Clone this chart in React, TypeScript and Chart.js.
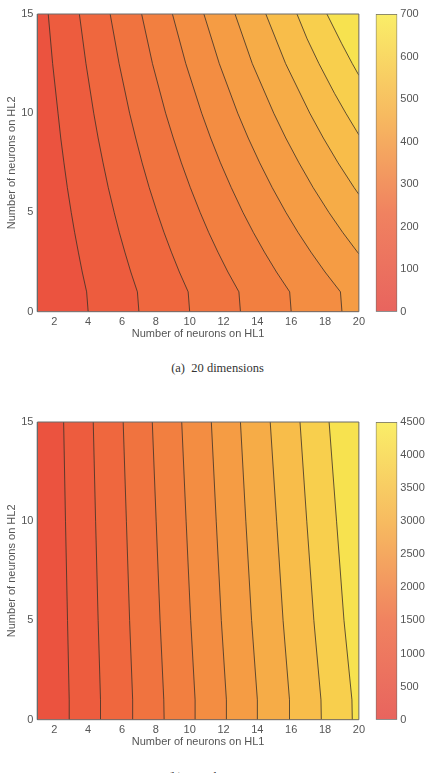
import React, { useEffect, useRef } from 'react';
import { Chart, registerables } from 'chart.js';

Chart.register(...registerables);

// ---------- data ----------
const X_MIN = 1;
const X_MAX = 20;
const Y_MIN = 0;
const Y_MAX = 15;
const X_TICKS = [2, 4, 6, 8, 10, 12, 14, 16, 18, 20];
const Y_TICKS = [0, 5, 10, 15];
const CBAR_A_MAX = 700;
const CBAR_A_TICKS = [0, 100, 200, 300, 400, 500, 600, 700];
const CBAR_B_MAX = 4500;
const CBAR_B_TICKS = [0, 500, 1000, 1500, 2000, 2500, 3000, 3500, 4000, 4500];

const X_TITLE = 'Number of neurons on HL1';
const Y_TITLE = 'Number of neurons on HL2';
const CAPTION_A = '(a)\u00a0\u00a020 dimensions';
const CAPTION_B = '(b)\u00a0\u00a0200 dimensions';

type P = { x: number; y: number };
const pts = (a: number[][]): P[] => a.map(([x, y]) => ({ x, y }));

// contour lines of plot (a), each from its lower/right end up to the top edge
const CONTOURS_A: P[][] = [
  pts([[4.0, 0], [3.91, 1], [3.65, 2], [3.42, 3], [3.2, 4], [3.0, 5], [2.77, 6.25], [2.57, 7.5], [2.38, 8.75], [2.22, 10], [1.9, 12.5], [1.64, 15]]),
  pts([[7.0, 0], [6.91, 1], [6.52, 2], [6.17, 3], [5.84, 4], [5.54, 5], [5.19, 6.25], [4.88, 7.5], [4.59, 8.75], [4.33, 10], [3.87, 12.5], [3.48, 15]]),
  pts([[10.0, 0], [9.91, 1], [9.39, 2], [8.92, 3], [8.48, 4], [8.08, 5], [7.61, 6.25], [7.19, 7.5], [6.81, 8.75], [6.45, 10], [5.83, 12.5], [5.3, 15]]),
  pts([[13.0, 0], [12.91, 1], [12.26, 2], [11.67, 3], [11.12, 4], [10.62, 5], [10.04, 6.25], [9.51, 7.5], [9.03, 8.75], [8.58, 10], [7.8, 12.5], [7.16, 15]]),
  pts([[16.0, 0], [15.91, 1], [15.13, 2], [14.42, 3], [13.76, 4], [13.15, 5], [12.46, 6.25], [11.82, 7.5], [11.24, 8.75], [10.71, 10], [9.77, 12.5], [8.98, 15]]),
  pts([[19.0, 0], [18.91, 1], [18.0, 2], [17.17, 3], [16.4, 4], [15.69, 5], [14.88, 6.25], [14.14, 7.5], [13.46, 8.75], [12.84, 10], [11.75, 12.5], [10.84, 15]]),
  pts([[20, 2.91], [19.92, 3], [19.04, 4], [18.23, 5], [17.3, 6.25], [16.46, 7.5], [15.68, 8.75], [14.97, 10], [13.7, 12.5], [12.68, 15]]),
  pts([[20, 5.91], [19.72, 6.25], [18.77, 7.5], [17.9, 8.75], [17.1, 10], [15.67, 12.5], [14.5, 15]]),
  pts([[20, 8.91], [19.23, 10], [18.56, 11], [17.64, 12.5], [16.94, 13.75], [16.34, 15]]),
  pts([[20, 11.91], [19.61, 12.5], [18.99, 13.5], [18.11, 15]]),
];

// contour lines of plot (b)
const CONTOURS_B: P[][] = [
  pts([[2.9, 0], [2.88, 1], [2.78, 5], [2.66, 10], [2.55, 15]]),
  pts([[4.75, 0], [4.73, 1], [4.59, 5], [4.44, 10], [4.3, 15]]),
  pts([[6.65, 0], [6.63, 1], [6.45, 5], [6.26, 10], [6.07, 15]]),
  pts([[8.49, 0], [8.47, 1], [8.25, 5], [8.02, 10], [7.79, 15]]),
  pts([[10.34, 0], [10.32, 1], [10.06, 5], [9.79, 10], [9.53, 15]]),
  pts([[12.19, 0], [12.17, 1], [11.87, 5], [11.57, 10], [11.28, 15]]),
  pts([[14.02, 0], [14.0, 1], [13.66, 5], [13.32, 10], [13.0, 15]]),
  pts([[15.92, 0], [15.9, 1], [15.52, 5], [15.14, 10], [14.76, 15]]),
  pts([[17.78, 0], [17.76, 1], [17.34, 5], [16.92, 10], [16.52, 15]]),
  pts([[19.61, 0], [19.59, 1], [19.12, 5], [18.68, 10], [18.24, 15]]),
];

// fill colour of each band (left/bottom band first)
const BAND_COLORS = [
  '#EB533F', '#ED5C3E', '#EF673E', '#F0733F', '#F27F40', '#F38D42',
  '#F59C44', '#F6AC47', '#F8BD4A', '#F8CF4D', '#F7E24F',
];
const COLORBAR_STOPS: [number, string][] = [
  [0, 'rgb(232,100,94)'],
  [0.33, 'rgb(240,130,96)'],
  [0.66, 'rgb(247,186,96)'],
  [1, 'rgb(250,238,104)'],
];

// ---------- style / layout ----------
const FONT = { family: '"Liberation Sans", Arial, Helvetica, sans-serif', size: 11 };
const TEXT_COLOR = '#555555';
const LINE_COLOR = 'rgba(60,50,40,0.9)';
const BOX_COLOR = '#6a6a6a';
const PLOT_LEFT = 37.4;
const PLOT_TOP = 14;
const PLOT_BOTTOM = 311.7;
const CANVAS_W = 369;
const CANVAS_H = 345;

function bandPolygons(lines: P[][]): P[][] {
  const polys: P[][] = [[
    { x: X_MIN, y: Y_MIN }, { x: X_MAX, y: Y_MIN }, { x: X_MAX, y: Y_MAX }, { x: X_MIN, y: Y_MAX }, { x: X_MIN, y: Y_MIN },
  ]];
  for (const line of lines) {
    const start = line[0];
    const poly = [...line, { x: X_MAX, y: Y_MAX }];
    if (start.y === Y_MIN) poly.push({ x: X_MAX, y: Y_MIN });
    poly.push(start);
    polys.push(poly);
  }
  return polys;
}

function ContourPlot({ top, lines }: { top: number; lines: P[][] }) {
  const ref = useRef<HTMLCanvasElement>(null);
  useEffect(() => {
    const datasets: any[] = [];
    bandPolygons(lines).forEach((poly, k) => {
      datasets.push({
        data: poly, fill: 'shape', backgroundColor: BAND_COLORS[k],
        borderColor: 'rgba(0,0,0,0)', borderWidth: 0, pointRadius: 0, order: 1000 - k,
      });
    });
    lines.forEach((line) => {
      datasets.push({ data: line, fill: false, borderColor: LINE_COLOR, borderWidth: 0.9, pointRadius: 0, order: 10 });
    });
    datasets.push({
      data: [{ x: X_MIN, y: Y_MIN }, { x: X_MAX, y: Y_MIN }, { x: X_MAX, y: Y_MAX }, { x: X_MIN, y: Y_MAX }, { x: X_MIN, y: Y_MIN }],
      fill: false, borderColor: BOX_COLOR, borderWidth: 1, pointRadius: 0, order: 0, clip: false,
    });
    const chart = new Chart(ref.current!, {
      type: 'line',
      data: { datasets },
      options: {
        animation: false,
        responsive: false,
        events: [],
        layout: { padding: { left: 0, right: 10, top: PLOT_TOP, bottom: 0 } },
        plugins: { legend: { display: false }, tooltip: { enabled: false } },
        scales: {
          x: {
            type: 'linear', min: X_MIN, max: X_MAX,
            afterBuildTicks: (s: any) => { s.ticks = X_TICKS.map((v) => ({ value: v })); },
            afterFit: (s: any) => { s.height = CANVAS_H - PLOT_BOTTOM; },
            grid: { display: false, drawTicks: false },
            border: { display: false },
            ticks: { font: FONT, color: TEXT_COLOR, padding: 4, maxRotation: 0, autoSkip: false, callback: (v: any) => String(v) },
            title: { display: true, text: X_TITLE, font: FONT, color: TEXT_COLOR, padding: { top: 0, bottom: 4 } },
          },
          y: {
            type: 'linear', min: Y_MIN, max: Y_MAX,
            afterBuildTicks: (s: any) => { s.ticks = Y_TICKS.map((v) => ({ value: v })); },
            afterFit: (s: any) => { s.width = PLOT_LEFT; },
            grid: { display: false, drawTicks: false },
            border: { display: false },
            ticks: { font: FONT, color: TEXT_COLOR, padding: 4, autoSkip: false, callback: (v: any) => String(v) },
            title: { display: true, text: Y_TITLE, font: FONT, color: TEXT_COLOR, padding: { top: 5.4, bottom: 0 } },
          },
        },
      } as any,
    });
    return () => chart.destroy();
  }, []);
  return (
    <canvas ref={ref} width={CANVAS_W} height={CANVAS_H}
      style={{ position: 'absolute', left: 0, top, width: CANVAS_W, height: CANVAS_H }} />
  );
}

function ColorBar({ top, max, ticks }: { top: number; max: number; ticks: number[] }) {
  const ref = useRef<HTMLCanvasElement>(null);
  useEffect(() => {
    const chart = new Chart(ref.current!, {
      type: 'bar',
      data: {
        labels: [''],
        datasets: [{
          data: [max],
          backgroundColor: (c: any) => {
            const area = c.chart.chartArea;
            if (!area) return COLORBAR_STOPS[0][1];
            const g = c.chart.ctx.createLinearGradient(0, area.bottom, 0, area.top);
            COLORBAR_STOPS.forEach(([o, col]) => g.addColorStop(o, col));
            return g;
          },
          borderColor: BOX_COLOR, borderWidth: 1, borderSkipped: false,
          barPercentage: 1, categoryPercentage: 1,
        }],
      },
      options: {
        animation: false,
        responsive: false,
        events: [],
        layout: { padding: { left: 5.7, right: 0, top: PLOT_TOP, bottom: CANVAS_H - PLOT_BOTTOM } },
        plugins: { legend: { display: false }, tooltip: { enabled: false } },
        scales: {
          x: { display: false },
          y: {
            position: 'right', min: 0, max,
            afterBuildTicks: (s: any) => { s.ticks = ticks.map((v) => ({ value: v })); },
            afterFit: (s: any) => { s.width = 27.7; },
            grid: { display: false, drawTicks: false },
            border: { display: false },
            ticks: { font: FONT, color: TEXT_COLOR, padding: 3, autoSkip: false, callback: (v: any) => String(v) },
          },
        },
      } as any,
    });
    return () => chart.destroy();
  }, []);
  return (
    <canvas ref={ref} width={55} height={CANVAS_H}
      style={{ position: 'absolute', left: 370, top, width: 55, height: CANVAS_H }} />
  );
}

const captionStyle = (top: number): React.CSSProperties => ({
  position: 'absolute', left: 0, width: 435, top, textAlign: 'center',
  fontFamily: '"Liberation Serif", "DejaVu Serif", serif', fontSize: 12.5, lineHeight: '14px', color: '#333',
  whiteSpace: 'nowrap',
});

export default function App() {
  return (
    <div style={{ position: 'absolute', left: 0, top: 0, width: 425, height: 773, overflow: 'hidden', background: '#fff' }}>
      <ContourPlot top={0} lines={CONTOURS_A} />
      <ColorBar top={0} max={CBAR_A_MAX} ticks={CBAR_A_TICKS} />
      <div style={captionStyle(361)}>{CAPTION_A}</div>
      <ContourPlot top={408.3} lines={CONTOURS_B} />
      <ColorBar top={408.3} max={CBAR_B_MAX} ticks={CBAR_B_TICKS} />
      <div style={captionStyle(770)}>{CAPTION_B}</div>
    </div>
  );
}
